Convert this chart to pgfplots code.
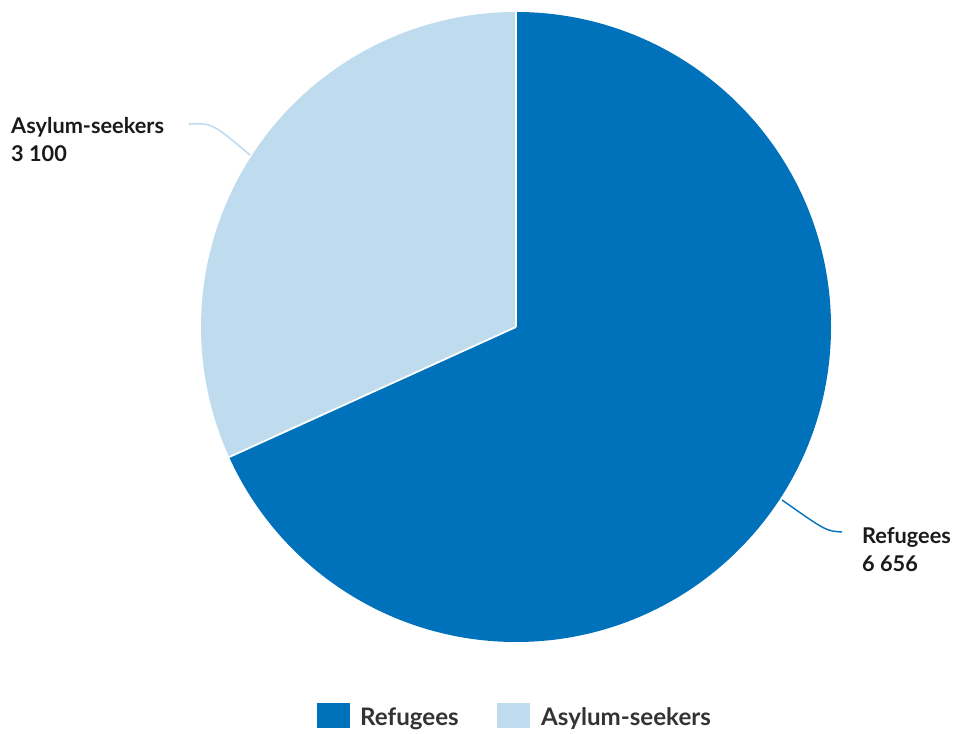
\documentclass[border=0pt]{standalone}
\usepackage{pgfplots}
\pgfplotsset{compat=1.18}
\usepackage{fontspec}
\setmainfont{Lato}[BoldFont={Lato Bold}]
\definecolor{refblue}{HTML}{0072BC}
\definecolor{asylblue}{HTML}{BFDCEE}
\definecolor{labtext}{HTML}{1A1A1A}
\definecolor{legtext}{HTML}{333333}
\begin{document}
\begin{tikzpicture}
% values
\pgfmathsetmacro{\vRef}{6656}
\pgfmathsetmacro{\vAsy}{3100}
\pgfmathsetmacro{\tot}{\vRef+\vAsy}
\pgfmathsetmacro{\fRef}{\vRef/\tot}
\pgfmathsetmacro{\aRef}{360*\fRef}
\pgfmathsetmacro{\aEnd}{90-\aRef}
\pgfmathsetmacro{\aEndB}{\aEnd+360}
\begin{axis}[
  scale only axis, width=955bp, height=734bp,
  xmin=0, xmax=955, ymin=0, ymax=734,
  hide axis, clip=false,
]
\path (axis cs:0,0) rectangle (axis cs:955,734);
% Refugees slice (clockwise from top)
\fill[refblue] (axis cs:516,407) -- ++(90:315bp) arc[start angle=90, end angle=\aEnd, radius=315bp] -- cycle;
% Asylum-seekers slice
\fill[asylblue] (axis cs:516,407) -- ++(90:315bp) arc[start angle=90, end angle=\aEndB, radius=315bp] -- cycle;
\draw[white, line width=1.8bp] (axis cs:516,407) -- ++(90:315bp);
\draw[white, line width=1.8bp] (axis cs:516,407) -- ++(\aEnd:315bp);
% leader lines
\draw[asylblue, line width=1.6bp] (axis cs:189,610) .. controls (axis cs:212,611) .. (axis cs:250,579);
\draw[refblue, line width=1.4bp] (axis cs:782,234) .. controls (axis cs:826,203) .. (axis cs:842,202);
% labels
\node[anchor=base west, inner sep=0, text=labtext, font=\fontsize{21.8}{26}\selectfont\bfseries] at (axis cs:11,600) {Asylum-seekers};
\node[anchor=base west, inner sep=0, text=labtext, font=\fontsize{21.8}{26}\selectfont\bfseries] at (axis cs:11,572) {3 100};
\node[anchor=base west, inner sep=0, text=labtext, font=\fontsize{21.8}{26}\selectfont\bfseries] at (axis cs:862,190) {Refugees};
\node[anchor=base west, inner sep=0, text=labtext, font=\fontsize{21.8}{26}\selectfont\bfseries] at (axis cs:862,162) {6 656};
% legend
\fill[refblue] (axis cs:317,6) rectangle (axis cs:350,31);
\fill[asylblue] (axis cs:497,6) rectangle (axis cs:530,31);
\node[anchor=base west, inner sep=0, text=legtext, font=\fontsize{24.2}{28}\selectfont\bfseries] at (axis cs:360,9) {Refugees};
\node[anchor=base west, inner sep=0, text=legtext, font=\fontsize{24.2}{28}\selectfont\bfseries] at (axis cs:541,9) {Asylum-seekers};
\end{axis}
\end{tikzpicture}
\end{document}
